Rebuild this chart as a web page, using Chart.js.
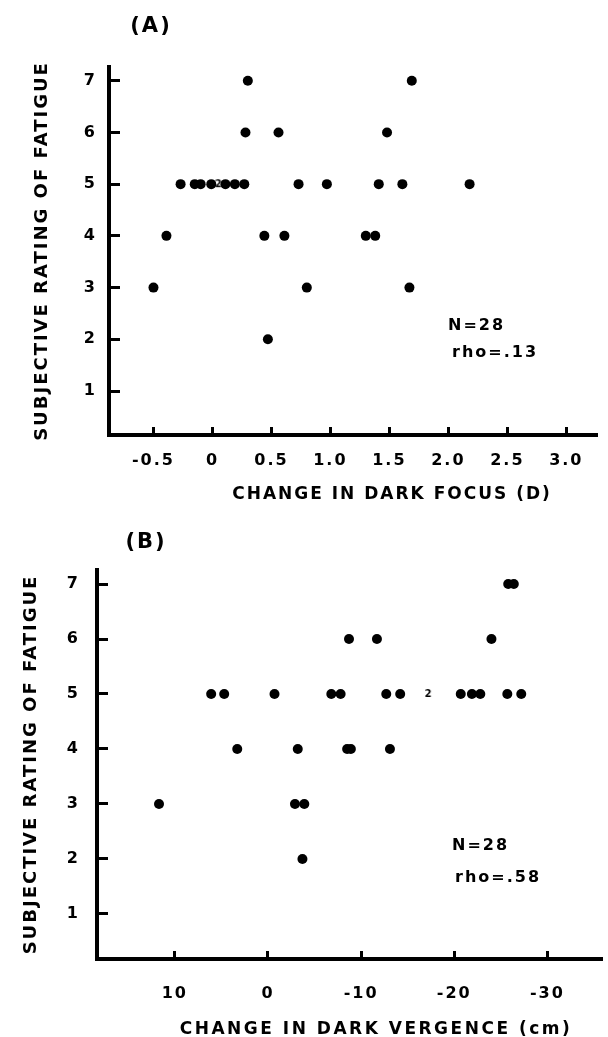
<!DOCTYPE html>
<html>
<head>
<meta charset="utf-8">
<script src="https://cdn.jsdelivr.net/npm/chart.js@4.4.1/dist/chart.umd.min.js"></script>
<style>
html, body { margin: 0; padding: 0; background: #fff; }
#wrapA { position: absolute; left: 0; top: 0; width: 608px; height: 518px; }
#wrapB { position: absolute; left: 0; top: 518px; width: 608px; height: 519px; }
</style>
</head>
<body>
<div id="wrapA"><canvas id="chartA"></canvas></div>
<div id="wrapB"><canvas id="chartB"></canvas></div>
<script>
// (A) change in dark focus (D) against fatigue rating
const focusX = [-0.50, -0.39, -0.27, -0.15, -0.10, -0.01, 0.11, 0.19, 0.27, 0.28, 0.30,
                0.44, 0.47, 0.56, 0.61, 0.73, 0.80, 0.97, 1.30, 1.38, 1.41, 1.48,
                1.61, 1.67, 1.69, 2.18];
const focusY = [3, 4, 5, 5, 5, 5, 5, 5, 5, 6, 7,
                4, 2, 6, 4, 5, 3, 5, 4, 4, 5, 6,
                5, 3, 7, 5];
// two coincident subjects, printed as a "2"
const focusPairX = [0.05];
const focusPairY = [5];
const focusTicks = [-0.5, 0, 0.5, 1.0, 1.5, 2.0, 2.5, 3.0];
const focusTickLabels = ['-0.5', '0', '0.5', '1.0', '1.5', '2.0', '2.5', '3.0'];

// (B) change in dark vergence (cm) against fatigue rating
const vergX = [11.7, 6.1, 4.7, 3.3, -0.7, -2.9, -3.2, -3.7, -3.9, -6.8, -7.8,
               -8.5, -8.7, -8.9, -11.7, -12.7, -13.1, -14.2, -20.7, -21.9, -22.8,
               -24.0, -25.7, -25.8, -26.4, -27.2];
const vergY = [3, 5, 5, 4, 5, 3, 4, 2, 3, 5, 5,
               4, 6, 4, 6, 5, 4, 5, 5, 5, 5,
               6, 5, 7, 7, 5];
const vergPairX = [-17.2];
const vergPairY = [5];
const vergTicks = [10, 0, -10, -20, -30];
const vergTickLabels = ['10', '0', '-10', '-20', '-30'];

const ratingTicks = [1, 2, 3, 4, 5, 6, 7];

const FONT = '"DejaVu Sans", "Liberation Sans", sans-serif';

function toPoints(xs, ys) {
    return xs.map((x, i) => ({ x: x, y: ys[i] }));
}

// small "2" glyph used as the marker for coincident points
const twoMarker = document.createElement('canvas');
twoMarker.width = 10;
twoMarker.height = 12;
(function() {
    const c = twoMarker.getContext('2d');
    c.fillStyle = '#000';
    c.font = 'bold 10px ' + FONT;
    c.textAlign = 'center';
    c.textBaseline = 'middle';
    c.fillText('2', 5, 6);
})();

const spacing = {
    id: 'spacing',
    beforeLayout(chart) { chart.ctx.letterSpacing = '2px'; },
    beforeDraw(chart) { chart.ctx.letterSpacing = '2px'; }
};

const panelText = {
    id: 'panelText',
    afterDraw(chart, args, o) {
        const ctx = chart.ctx;
        ctx.save();
        ctx.fillStyle = '#000';
        ctx.textBaseline = 'middle';
        ctx.letterSpacing = '2px';
        ctx.font = 'bold 21px ' + FONT;
        ctx.textAlign = 'center';
        ctx.fillText(o.panel, o.panelPos[0], o.panelPos[1]);
        ctx.font = 'bold 17px ' + FONT;
        ctx.letterSpacing = o.xTitleSpacing;
        ctx.fillText(o.xTitle, o.xTitlePos[0], o.xTitlePos[1]);
        ctx.letterSpacing = '2px';
        ctx.textAlign = 'left';
        ctx.font = 'bold 16px ' + FONT;
        o.stats.forEach((s, i) => ctx.fillText(s, o.statsPos[i][0], o.statsPos[i][1]));
        ctx.restore();
    }
};

function makePanel(id, cfg) {
    return new Chart(document.getElementById(id), {
        type: 'scatter',
        data: {
            datasets: [{
                data: toPoints(cfg.xs, cfg.ys),
                backgroundColor: '#000',
                borderWidth: 0,
                pointRadius: 5
            }, {
                data: toPoints(cfg.pairX, cfg.pairY),
                pointStyle: twoMarker,
                pointRadius: 5
            }]
        },
        plugins: [spacing, panelText],
        options: {
            responsive: true,
            maintainAspectRatio: false,
            animation: false,
            clip: false,
            layout: { padding: cfg.padding },
            plugins: {
                legend: { display: false },
                tooltip: { enabled: false },
                panelText: cfg.text
            },
            scales: {
                x: {
                    type: 'linear',
                    min: cfg.xMin,
                    max: cfg.xMax,
                    reverse: cfg.reverse,
                    afterFit: s => { s.height = cfg.xHeight; },
                    afterBuildTicks: s => { s.ticks = cfg.xTicks.map(v => ({ value: v })); },
                    border: { display: true, width: 4, color: '#000' },
                    grid: { drawOnChartArea: false, drawTicks: true, tickLength: -8, tickWidth: 3, tickColor: '#000' },
                    ticks: {
                        color: '#000',
                        padding: cfg.xTickPad,
                        maxRotation: 0,
                        autoSkip: false,
                        font: { family: FONT, size: 16, weight: 'bold' },
                        callback: (v, i) => cfg.xTickLabels[i]
                    }
                },
                y: {
                    min: cfg.yMin,
                    max: cfg.yMax,
                    afterFit: s => { s.width = cfg.yWidth; },
                    afterBuildTicks: s => { s.ticks = ratingTicks.map(v => ({ value: v })); },
                    border: { display: true, width: 4, color: '#000' },
                    grid: { drawOnChartArea: false, drawTicks: true, tickLength: -11, tickWidth: 3, tickColor: '#000' },
                    ticks: {
                        color: '#000',
                        padding: cfg.yTickPad,
                        autoSkip: false,
                        font: { family: FONT, size: 16, weight: 'bold' },
                        callback: v => String(v)
                    },
                    title: {
                        display: true,
                        text: 'SUBJECTIVE RATING OF FATIGUE',
                        color: '#000',
                        font: { family: FONT, size: 18, weight: 'bold' },
                        padding: { top: cfg.yTitlePad, bottom: 0 }
                    }
                }
            }
        }
    });
}

makePanel('chartA', {
    xs: focusX, ys: focusY, pairX: focusPairX, pairY: focusPairY,
    xTicks: focusTicks, xTickLabels: focusTickLabels,
    xMin: -0.877, xMax: 3.263, reverse: false,
    yMin: 0.15, yMax: 7.265,
    padding: { top: 67, right: 8, bottom: 0, left: 0 },
    xHeight: 83, yWidth: 109,
    xTickPad: 24, yTickPad: 23, yTitlePad: 32,
    text: {
        panel: '(A)', panelPos: [151, 27],
        xTitle: 'CHANGE IN DARK FOCUS (D)', xTitlePos: [392, 495], xTitleSpacing: '2px',
        stats: ['N=28', 'rho=.13'], statsPos: [[448, 326], [452, 353]]
    }
});

makePanel('chartB', {
    xs: vergX, ys: vergY, pairX: vergPairX, pairY: vergPairY,
    xTicks: vergTicks, xTickLabels: vergTickLabels,
    xMin: -35.87, xMax: 18.36, reverse: true,
    yMin: 0.18, yMax: 7.255,
    padding: { top: 52, right: 5, bottom: 0, left: 0 },
    xHeight: 78, yWidth: 97,
    xTickPad: 33, yTickPad: 28, yTitlePad: 21,
    text: {
        panel: '(B)', panelPos: [146, 25],
        xTitle: 'CHANGE IN DARK VERGENCE (cm)', xTitlePos: [376, 512], xTitleSpacing: '2.5px',
        stats: ['N=28', 'rho=.58'], statsPos: [[452, 328], [455, 360]]
    }
});
</script>
</body>
</html>
